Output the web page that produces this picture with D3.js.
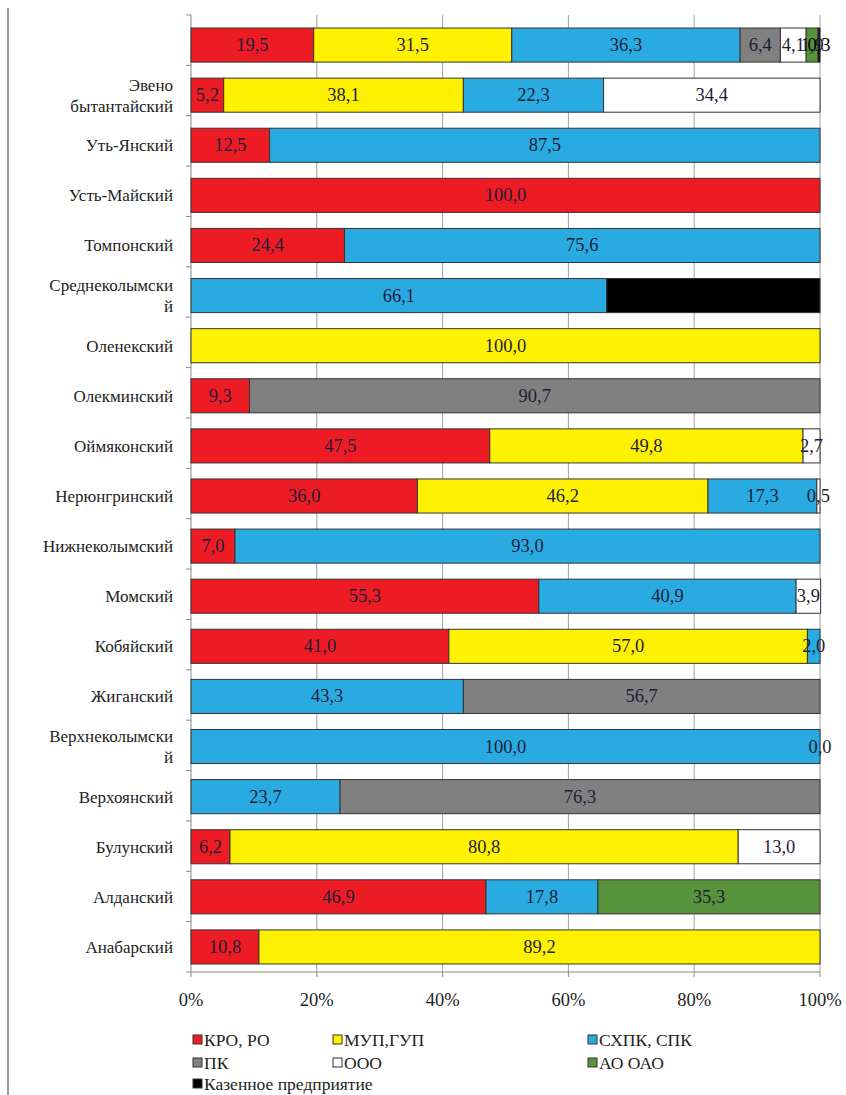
<!DOCTYPE html>
<html>
<head>
<meta charset="utf-8">
<script src="https://cdn.jsdelivr.net/npm/d3@7"></script>
<style>
  body { margin: 0; background: #fff; }
  svg text { font-family: "Times New Roman", "Liberation Serif", "DejaVu Serif", "Noto Serif", serif; }
</style>
</head>
<body>
<svg id="chart" width="846" height="1095"></svg>
<script>
// categories, top to bottom
const districts = ["", "Эвено\nбытантайский", "Уть-Янский", "Усть-Майский", "Томпонский",
  "Среднеколымски\nй", "Оленекский", "Олекминский", "Оймяконский", "Нерюнгринский",
  "Нижнеколымский", "Момский", "Кобяйский", "Жиганский", "Верхнеколымски\nй",
  "Верхоянский", "Булунский", "Алданский", "Анабарский"]

const seriesNames = ["КРО, РО", "МУП,ГУП", "СХПК, СПК", "ПК", "ООО", "АО ОАО", "Казенное предприятие"]
const seriesColors = ["#ed1c24", "#fff200", "#29abe2", "#808080", "#ffffff", "#56933a", "#000000"]

// null = no segment
const kro  = [19.5, 5.2, 12.5, 100, 24.4, null, null, 9.3, 47.5, 36.0, 7.0, 55.3, 41.0, null, null, null, 6.2, 46.9, 10.8]
const mup  = [31.5, 38.1, null, null, null, null, 100, null, 49.8, 46.2, null, null, 57.0, null, null, null, 80.8, null, 89.2]
const shpk = [36.3, 22.3, 87.5, null, 75.6, 66.1, null, null, null, 17.3, 93.0, 40.9, 2.0, 43.3, 100, 23.7, null, 17.8, null]
const pk   = [6.4, null, null, null, null, null, null, 90.7, null, null, null, null, null, 56.7, null, 76.3, null, null, null]
const ooo  = [4.1, 34.4, null, null, null, null, null, null, 2.7, 0.5, null, 3.9, null, null, 0.0, null, 13.0, null, null]
const ao   = [1.9, null, null, null, null, null, null, null, null, null, null, null, null, null, null, null, null, 35.3, null]
const kaz  = [0.3, null, null, null, null, 33.9, null, null, null, null, null, null, null, null, null, null, null, null, null]

const series = [kro, mup, shpk, pk, ooo, ao, kaz]
const ticks = [0, 20, 40, 60, 80, 100]

const svg = d3.select("#chart")
const mLeft = 191, mRight = 820, mTop = 20, mBottom = 972
const fs = 18.5

const x = d3.scaleLinear().domain([0, 100]).range([mLeft, mRight])
const y = d3.scaleBand().domain(d3.range(districts.length)).range([mTop, mBottom]).paddingInner(0.32).paddingOuter(0.16)

// border line on the far left
svg.append("line").attr("x1", 8).attr("x2", 8).attr("y1", 8).attr("y2", 1095)
  .attr("stroke", "#999").attr("stroke-width", 2)

// gridlines
svg.append("g").selectAll("line").data(ticks.slice(1)).join("line")
  .attr("x1", d => x(d)).attr("x2", d => x(d))
  .attr("y1", mTop - 5).attr("y2", mBottom)
  .attr("stroke", "#a0a0a0").attr("stroke-width", 1)

// left axis with ticks between bars
const ax = svg.append("g")
ax.append("line").attr("x1", mLeft).attr("x2", mLeft).attr("y1", mTop - 5).attr("y2", mBottom)
  .attr("stroke", "#888")
const bounds = d3.range(districts.length + 1).map(i => mTop - 5 + i * (mBottom - mTop + 5) / districts.length)
ax.selectAll(".tk").data(bounds).join("line")
  .attr("x1", mLeft - 5).attr("x2", mLeft).attr("y1", d => d).attr("y2", d => d)
  .attr("stroke", "#888")

// bottom axis ticks and labels
svg.append("g").selectAll("line").data(ticks).join("line")
  .attr("x1", d => x(d)).attr("x2", d => x(d)).attr("y1", mBottom).attr("y2", mBottom + 5)
  .attr("stroke", "#888")
svg.append("line").attr("x1", mLeft).attr("x2", mRight).attr("y1", mBottom).attr("y2", mBottom).attr("stroke", "#888")
svg.append("g").selectAll("text").data(ticks).join("text")
  .attr("x", d => x(d)).attr("y", 1006).attr("text-anchor", "middle")
  .attr("font-size", fs).attr("fill", "#222")
  .text(d => d + "%")

// bars
const segs = []
districts.forEach((d, i) => {
  let acc = 0
  series.forEach((s, k) => {
    const v = s[i]
    if (v === null) return
    segs.push({ i, k, x0: acc, x1: acc + v, v })
    acc += v
  })
})

const bars = svg.append("g")
bars.selectAll("rect").data(segs.filter(s => s.v > 0)).join("rect")
  .attr("x", s => x(s.x0)).attr("width", s => x(s.x1) - x(s.x0))
  .attr("y", s => y(s.i)).attr("height", y.bandwidth())
  .attr("fill", s => seriesColors[s.k])
  .attr("stroke", "#333").attr("stroke-width", 1)

bars.selectAll("text").data(segs).join("text")
  .attr("x", s => Math.min(x((s.x0 + s.x1) / 2), mRight + 2))
  .attr("y", s => y(s.i) + y.bandwidth() / 2 + 6)
  .attr("text-anchor", "middle")
  .attr("font-size", fs).attr("fill", s => s.k === 6 ? "#000" : "#1d1d3a")
  .text(s => s.v.toFixed(1).replace(".", ","))

// category labels
const cats = svg.append("g")
districts.forEach((d, i) => {
  const lines = d.split("\n")
  const cy = y(i) + y.bandwidth() / 2
  const t = cats.append("text").attr("text-anchor", "end").attr("font-size", 17).attr("fill", "#222")
  lines.forEach((ln, j) => {
    t.append("tspan").attr("x", 173)
      .attr("y", cy + 6 + (j - (lines.length - 1) / 2) * 21)
      .text(ln)
  })
})

// legend
const legendPos = [[193, 1046], [333, 1046], [588, 1046], [193, 1069], [333, 1069], [588, 1069], [193, 1090]]
const lg = svg.append("g").selectAll("g").data(seriesNames).join("g")
  .attr("transform", (d, k) => `translate(${legendPos[k][0]},${legendPos[k][1]})`)
lg.append("rect").attr("x", 0).attr("y", -11).attr("width", 9).attr("height", 9)
  .attr("fill", (d, k) => seriesColors[k]).attr("stroke", "#333")
lg.append("text").attr("x", 11).attr("y", 0).attr("font-size", 17.5).attr("fill", "#222")
  .text(d => d)
</script>
</body>
</html>
